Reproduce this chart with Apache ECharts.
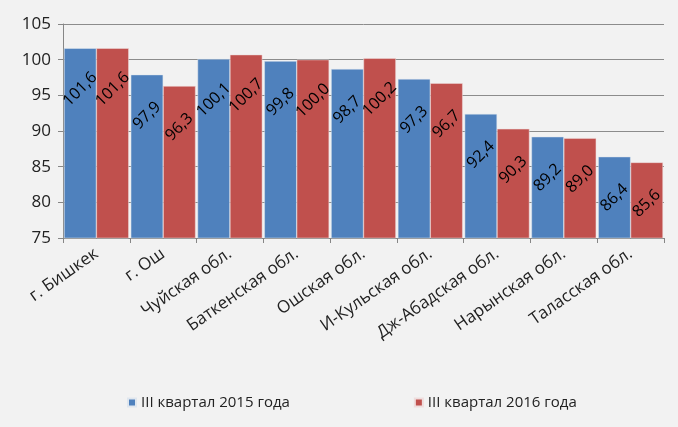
<!DOCTYPE html>
<html>
<head>
<meta charset="utf-8">
<script src="https://cdn.jsdelivr.net/npm/echarts@6/dist/echarts.min.js"></script>
<style>
  html, body { margin: 0; padding: 0; background: #f2f2f2; }
  #main { width: 678px; height: 427px; }
</style>
</head>
<body>
<div id="main"></div>
<script>
var categories = ['г. Бишкек', 'г. Ош', 'Чуйская обл.', 'Баткенская обл.', 'Ошская обл.',
  'И-Кульская обл.', 'Дж-Абадская обл.', 'Нарынская обл.', 'Таласская обл.'];
var values2015 = [101.6, 97.9, 100.1, 99.8, 98.7, 97.3, 92.4, 89.2, 86.4];
var values2016 = [101.6, 96.3, 100.7, 100.0, 100.2, 96.7, 90.3, 89.0, 85.6];
var seriesNames = ['III квартал 2015 года', 'III квартал 2016 года'];

var font = '"Open Sans", sans-serif';
var myChart = echarts.init(document.getElementById('main'));

function barLabel() {
  return {
    show: true,
    position: 'insideTop',
    distance: 41,
    rotate: 45,
    align: 'center',
    verticalAlign: 'middle',
    color: '#000',
    fontSize: 16,
    fontFamily: font,
    formatter: function (p) {
      return p.value.toFixed(1).replace('.', ',');
    }
  };
}

var option = {
  backgroundColor: '#f2f2f2',
  animation: false,
  grid: {
    left: 63,
    right: 14,
    top: 24,
    bottom: 189
  },
  legend: {
    bottom: 12,
    left: 122,
    itemGap: 124,
    itemWidth: 8,
    itemHeight: 8,
    icon: 'rect',
    textStyle: { fontFamily: font, fontSize: 15, color: '#222' },
    data: seriesNames
  },
  xAxis: {
    type: 'category',
    data: categories,
    axisLine: { lineStyle: { color: '#868686' } },
    axisTick: { show: true, length: 5, lineStyle: { color: '#868686' } },
    axisLabel: {
      rotate: 35,
      interval: 0,
      color: '#222',
      fontSize: 17,
      fontFamily: font,
      margin: 14
    }
  },
  yAxis: {
    type: 'value',
    min: 75,
    max: 105,
    interval: 5,
    axisLine: { show: true, lineStyle: { color: '#868686' } },
    axisTick: { show: true, length: 5, lineStyle: { color: '#868686' } },
    splitLine: { lineStyle: { color: '#8c8c8c' } },
    axisLabel: { color: '#222', fontSize: 17, fontFamily: font, margin: 12 }
  },
  series: [
    {
      name: seriesNames[0],
      type: 'bar',
      data: values2015,
      barGap: '0%',
      barCategoryGap: '3%',
      itemStyle: { color: '#4f81bd', borderColor: '#dfe6ee', borderWidth: 0.5 },
      label: barLabel()
    },
    {
      name: seriesNames[1],
      type: 'bar',
      data: values2016,
      itemStyle: { color: '#c0504d', borderColor: '#eedddd', borderWidth: 0.5 },
      label: barLabel()
    }
  ]
};
myChart.setOption(option);
</script>
</body>
</html>
